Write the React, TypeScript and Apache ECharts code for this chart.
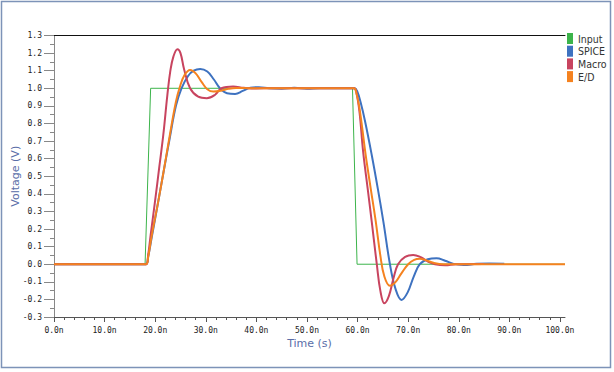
import React, { useEffect, useRef } from "react";
import * as echarts from "echarts";

// time in ns, voltage in V
const inputWave: [number, number][] = [
  [0, 0], [18, 0], [19.1, 1], [59, 1], [59.9, 0], [101, 0],
];

const spiceWave: [number, number][] = [
  [0, 0], [18.2, 0], [18.6, 0.04], [19.3, 0.15], [20.6, 0.356], [21.5, 0.5], [22.9, 0.72],
  [24.1, 0.9], [25.2, 1.0], [26.5, 1.07], [27.6, 1.1], [28.9, 1.11], [30.3, 1.095],
  [31.6, 1.05], [32.8, 1.0], [34.2, 0.972], [35.8, 0.968], [37.3, 0.985], [38.8, 1.003],
  [40.5, 1.006], [42.5, 1.0], [45, 0.998], [47.5, 1.003], [50, 0.998], [52.5, 1.0],
  [59.4, 1.0], [59.9, 0.985], [60.6, 0.92], [61.5, 0.81], [62.8, 0.621], [64, 0.43],
  [65.1, 0.242], [66.4, 0.0], [67.5, -0.14], [68.7, -0.203], [69.9, -0.16], [71.1, -0.07],
  [72.3, 0.0], [73.9, 0.028], [75.6, 0.034], [77.3, 0.02], [79, 0.002], [81, -0.004],
  [83.5, 0.002], [86, 0.004], [89, 0.003],
];

const macroWave: [number, number][] = [
  [0, 0], [18.2, 0], [18.6, 0.05], [19.1, 0.166], [19.96, 0.356], [20.8, 0.55], [21.6, 0.735],
  [22.4, 0.96], [23.0, 1.1], [23.6, 1.18], [24.4, 1.222], [25.0, 1.2], [25.7, 1.11],
  [26.9, 1.0], [28.5, 0.952], [30.2, 0.943], [31.8, 0.962], [33.1, 1.0], [35.4, 1.01],
  [37.5, 1.003], [40, 0.999], [43, 1.0], [59.3, 1.0], [59.8, 0.97], [60.4, 0.86],
  [61.1, 0.64], [62.0, 0.43], [62.8, 0.242], [63.8, 0.0], [64.5, -0.15], [65.3, -0.222],
  [66.2, -0.18], [67.1, -0.08], [68.0, 0.0], [69.4, 0.042], [71.0, 0.053], [72.6, 0.038],
  [74, 0.014], [75.3, 0.0], [77.3, -0.006], [79.5, 0.0], [85, 0.001],
];

const edWave: [number, number][] = [
  [0, 0], [18.2, 0], [18.6, 0.04], [19.3, 0.16], [20.6, 0.356], [21.5, 0.5], [22.9, 0.735],
  [24.1, 0.924], [24.9, 1.01], [25.8, 1.075], [26.9, 1.104], [28.0, 1.085], [29.2, 1.035],
  [30.3, 0.995], [31.5, 0.981], [33, 0.986], [34.5, 0.997], [36, 1.002], [39, 1.0],
  [59.3, 1.0], [59.7, 0.98], [60.3, 0.9], [60.8, 0.8], [61.6, 0.621], [62.6, 0.43],
  [63.6, 0.242], [64.5, 0.05], [65.3, -0.07], [66.4, -0.123], [67.4, -0.105], [68.6, -0.055],
  [70.0, 0.0], [71.2, 0.025], [72.3, 0.031], [73.6, 0.022], [75, 0.008], [77, 0.0], [101, 0],
];

const seriesNames = ["Input", "SPICE", "Macro", "E/D"];

const xMajorTicks = [0, 10, 20, 30, 40, 50, 60, 70, 80, 90, 100];
const xMinorTicks = [
  2, 4, 6, 8, 12, 14, 16, 18, 22, 24, 26, 28, 32, 34, 36, 38, 42, 44, 46, 48,
  52, 54, 56, 58, 62, 64, 66, 68, 72, 74, 76, 78, 82, 84, 86, 88, 92, 94, 96, 98,
];

const tickFont = "'DejaVu Sans Mono', monospace";
const titleFont = "'DejaVu Sans', sans-serif";

export default function App() {
  const ref = useRef<HTMLDivElement>(null);
  useEffect(() => {
    if (!ref.current) return;
    const chart = echarts.init(ref.current, undefined, { renderer: "svg" });
    const colors = ["#3cb44b", "#3e72c0", "#c8445f", "#f5821f"];
    const waves = [inputWave, spiceWave, macroWave, edWave];
    const widths = [1, 2, 2, 2];
    const gridBox = {
      left: 54, right: 49, top: 35.5, bottom: 55,
      containLabel: false, outerBoundsMode: "none",
    };
    const xBase = { type: "value" as const, min: 0, max: 101, splitLine: { show: false } };
    chart.setOption({
      animation: false,
      grid: [{ ...gridBox }, { ...gridBox }, { ...gridBox }],
      graphic: [
        {
          type: "rect",
          shape: { x: 1.5, y: 1.5, width: 609, height: 366 },
          style: { fill: "none", stroke: "#7d93b8", lineWidth: 1.5 },
          silent: true,
        },
      ],
      legend: {
        orient: "vertical",
        left: 567,
        top: 33,
        padding: 0,
        itemWidth: 6,
        itemHeight: 11,
        itemGap: 1.7,
        icon: "rect",
        data: seriesNames,
        textStyle: {
          fontSize: 10.5,
          fontFamily: "'Liberation Sans Narrow', 'DejaVu Sans Condensed', 'Liberation Sans', sans-serif",
          color: "#333",
        },
      },
      xAxis: [
        {
          ...xBase,
          gridIndex: 0,
          position: "bottom",
          axisLine: { show: true, onZero: false, lineStyle: { color: "#555", width: 1 } },
          axisTick: { show: true, customValues: xMajorTicks, length: 5, lineStyle: { color: "#555" } },
          axisLabel: {
            customValues: xMajorTicks,
            formatter: (v: number) => v.toFixed(1) + "n",
            fontFamily: tickFont,
            fontSize: 8,
            color: "#222",
            margin: 9,
          },
          name: "Time (s)",
          nameLocation: "middle",
          nameGap: 21,
          nameMoveOverlap: false,
          nameTextStyle: { color: "#5a6ea8", fontSize: 11, fontFamily: titleFont },
        },
        {
          ...xBase,
          gridIndex: 1,
          position: "bottom",
          axisLine: { show: false, onZero: false },
          axisTick: { show: true, customValues: xMinorTicks, length: 3, lineStyle: { color: "#555" } },
          axisLabel: { show: false },
        },
        {
          ...xBase,
          gridIndex: 2,
          position: "top",
          axisLine: { show: true, onZero: false, lineStyle: { color: "#111", width: 1 } },
          axisTick: { show: false },
          axisLabel: { show: false },
        },
      ],
      yAxis: [
        {
          type: "value",
          gridIndex: 0,
          min: -0.3,
          max: 1.3,
          interval: 0.1,
          splitLine: { show: false },
          axisLine: { show: true, onZero: false, lineStyle: { color: "#888" } },
          axisTick: { show: true, length: 10, lineStyle: { color: "#888" } },
          minorTick: { show: true, splitNumber: 2, length: 4, lineStyle: { color: "#888" } },
          axisLabel: {
            formatter: (v: number) => v.toFixed(1),
            fontFamily: tickFont,
            fontSize: 8,
            color: "#222",
            margin: 12,
          },
          name: "Voltage (V)",
          nameLocation: "middle",
          nameGap: 33,
          nameMoveOverlap: false,
          nameRotate: 90,
          nameTextStyle: { color: "#5a6ea8", fontSize: 11, fontFamily: titleFont },
        },
        {
          type: "value", gridIndex: 1, min: -0.3, max: 1.3, show: false,
        },
        {
          type: "value", gridIndex: 2, min: -0.3, max: 1.3, show: false,
        },
      ],
      series: seriesNames.map((name, i) => ({
        name,
        type: "line",
        xAxisIndex: 0,
        yAxisIndex: 0,
        data: waves[i],
        showSymbol: false,
        symbol: "none",
        smooth: i === 0 ? false : 0.4,
        color: colors[i],
        itemStyle: { color: colors[i] },
        lineStyle: { color: colors[i], width: widths[i] },
      })),
    });
    return () => chart.dispose();
  }, []);
  return (
    <div
      ref={ref}
      style={{ position: "fixed", left: 0, top: 0, width: 614, height: 372, background: "#fff" }}
    />
  );
}
